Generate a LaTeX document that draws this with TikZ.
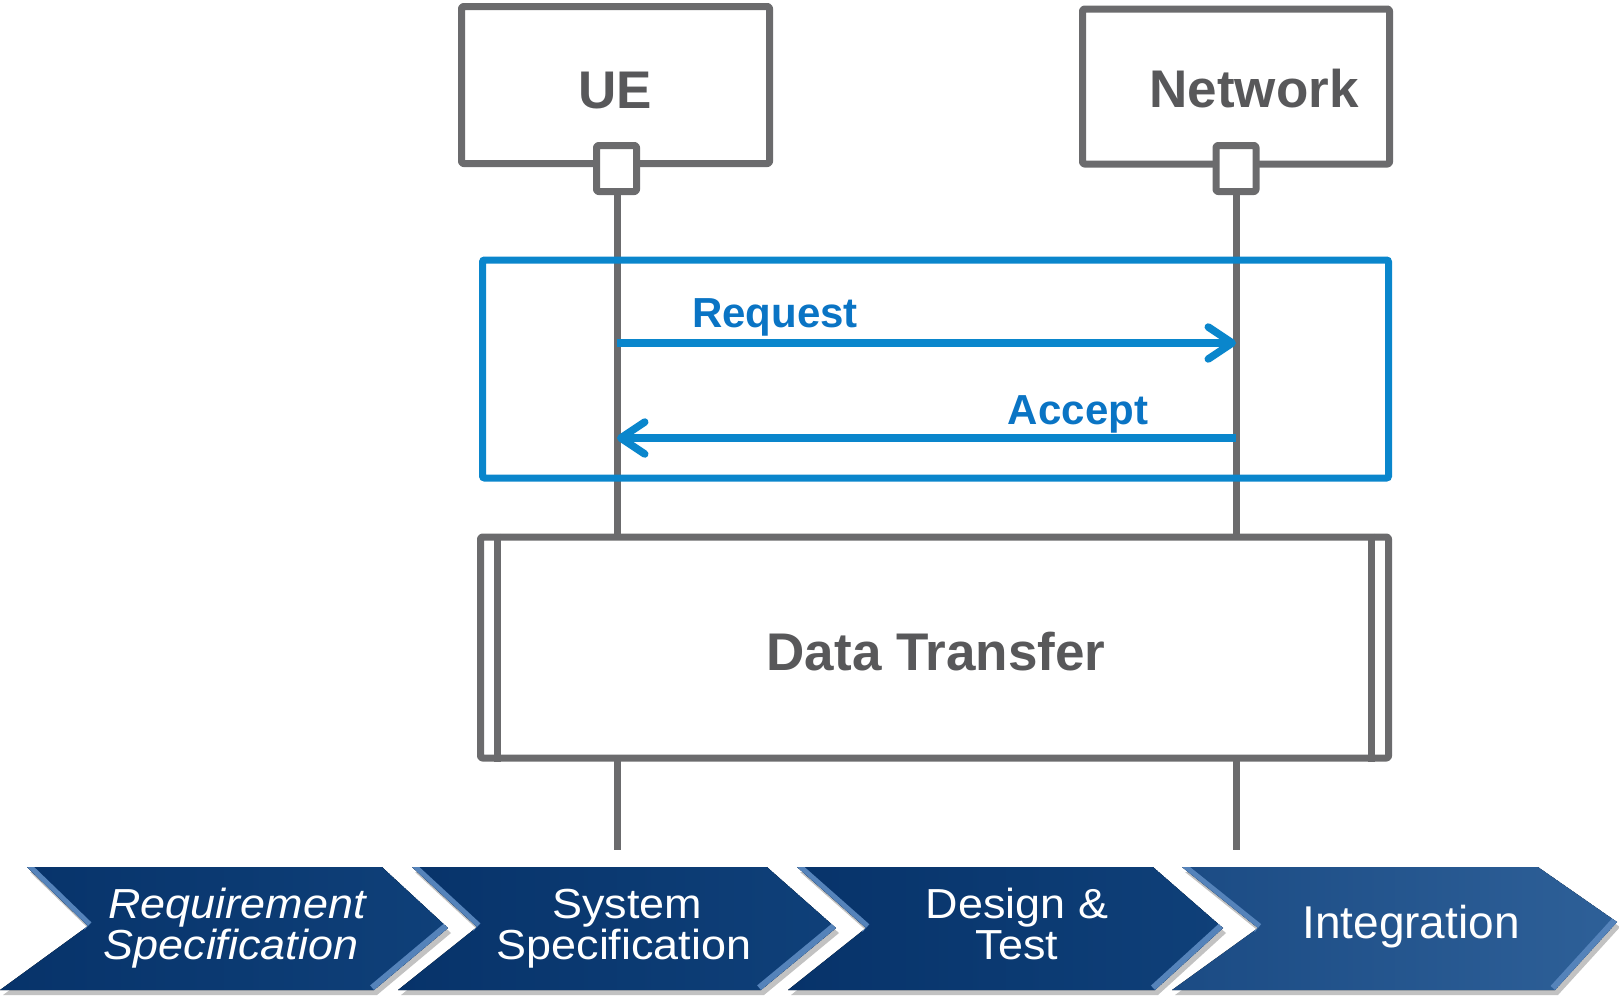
\documentclass[tikz,border=0pt]{standalone}
\usepackage{fontspec}
\setmainfont{Liberation Sans}
\usetikzlibrary{arrows.meta}
\definecolor{lgray}{HTML}{6B6B6D}
\definecolor{tgray}{HTML}{58585A}
\definecolor{lblue}{HTML}{0A86CC}
\definecolor{tblue}{HTML}{0A74C4}
\definecolor{navyA}{HTML}{07336A}
\definecolor{navyB}{HTML}{0F4079}
\definecolor{bevel}{HTML}{5583BA}
\definecolor{intA}{HTML}{1B4B84}
\definecolor{intB}{HTML}{2E6098}
\newcommand\wideline[1]{\scalebox{1.07}[1]{#1}}
\begin{document}
\begin{tikzpicture}[x=1pt,y=-1pt,
  grayline/.style={draw=lgray,line width=7pt,line join=round},
  actorbox/.style={grayline,fill=white,rounded corners=2pt,inner sep=0pt},
  portbox/.style={grayline,fill=white,rounded corners=2pt,inner sep=0pt,minimum width=40pt,minimum height=46pt},
  lifeline/.style={draw=lgray,line width=7pt},
  frame/.style={draw=lblue,line width=7pt,rounded corners=2pt,inner sep=0pt},
  msg/.style={draw=lblue,line width=7.5pt,-{Straight Barb[length=24pt,width=32pt,round]}},
  graytext/.style={text=tgray,font=\fontsize{53}{60}\selectfont\bfseries,inner sep=0pt,anchor=base},
  bluetext/.style={text=tblue,font=\fontsize{42}{48}\selectfont\bfseries,inner sep=0pt,anchor=base},
  chevtext/.style={text=white,font=\fontsize{42}{48}\selectfont,inner sep=0pt,anchor=base,text height=30pt,text depth=0pt},
]
\useasboundingbox (0,0) rectangle (1619,996);

% actors
\node[actorbox,minimum width=308pt,minimum height=157pt] (uebox) at (615.5,85) {};
\node[actorbox,minimum width=307pt,minimum height=155pt] (nwbox) at (1236,86.5) {};
\node[graytext] (uelabel) at (615,108) {UE};
\node[graytext] (nwlabel) at (1254,107) {Network};
\coordinate (ueend) at (617,850);
\coordinate (nwend) at (1236,850);
\draw[lifeline] (617,170) -- (ueend);
\draw[lifeline] (1236,170) -- (nwend);
\node[portbox] (uesq) at (616.5,168.5) {};
\node[portbox] (nwsq) at (1236,168.5) {};

% message frame
\node[frame,minimum width=906pt,minimum height=218pt] (msgframe) at (935.5,369) {};
\coordinate (uereq) at (617,343);
\coordinate (nwreq) at (1236,343);
\coordinate (ueacc) at (617,438);
\coordinate (nwacc) at (1236,438);
\draw[msg] (uereq) -- (nwreq);
\draw[msg] (nwacc) -- (ueacc);
\node[bluetext] (reqlabel) at (775,327) {Request};
\node[bluetext] (acclabel) at (1078,424) {Accept};

% data transfer
\node[actorbox,minimum width=908pt,minimum height=221pt] (dt) at (934.5,647.5) {};
\draw[grayline] ([xshift=20.5pt]dt.north west) -- ([xshift=20.5pt]dt.south west);
\draw[grayline] ([xshift=-20.5pt]dt.north east) -- ([xshift=-20.5pt]dt.south east);
\node[graytext] (dtlabel) at (936,670) {Data Transfer};

% chevrons
\foreach \tl/\tr/\tp/\br/\bl/\nt/\ca/\cb in {
  {27,867}/{382,867}/{448,928}/{374,990}/{0,990}/{88,926}/navyA/navyB,
  {412,867}/{767,867}/{836,928}/{761,990}/{398,990}/{477,927}/navyA/navyB,
  {797,867}/{1153,867}/{1223,928}/{1155,990}/{788,990}/{866,928}/navyA/navyB,
  {1182,867}/{1538,867}/{1617,922}/{1555,990}/{1172,990}/{1258,928}/intA/intB}{
  \begin{scope}[shift={(3,5)}]
    \fill[black!40,opacity=.6] (\tl) -- (\tr) -- (\tp) -- (\br) -- (\bl) -- (\nt) -- cycle;
  \end{scope}
  \begin{scope}
    \clip (\tl) -- (\tr) -- (\tp) -- (\br) -- (\bl) -- (\nt) -- cycle;
    \fill[left color=\ca,right color=\cb] (\tl) -- (\tr) -- (\tp) -- (\br) -- (\bl) -- (\nt) -- cycle;
    \draw[bevel,line width=10pt] (\tl) -- (\nt);
    \draw[bevel,line width=12pt] (\tp) -- (\br);
  \end{scope}
}
\node[chevtext,font=\fontsize{42}{48}\selectfont\itshape] (c1a) at (237,918) {\wideline{Requirement}};
\node[chevtext,font=\fontsize{42}{48}\selectfont\itshape] (c1b) at (231,959) {\wideline{Specification}};
\node[chevtext] (c2a) at (627,918) {\wideline{System}};
\node[chevtext] (c2b) at (624,959) {\wideline{Specification}};
\node[chevtext] (c3a) at (1017,918) {\wideline{Design \&}};
\node[chevtext] (c3b) at (1017,959) {\wideline{Test}};
\node[chevtext,font=\fontsize{46}{50}\selectfont] (c4a) at (1411,938) {Integration};
\end{tikzpicture}
\end{document}
